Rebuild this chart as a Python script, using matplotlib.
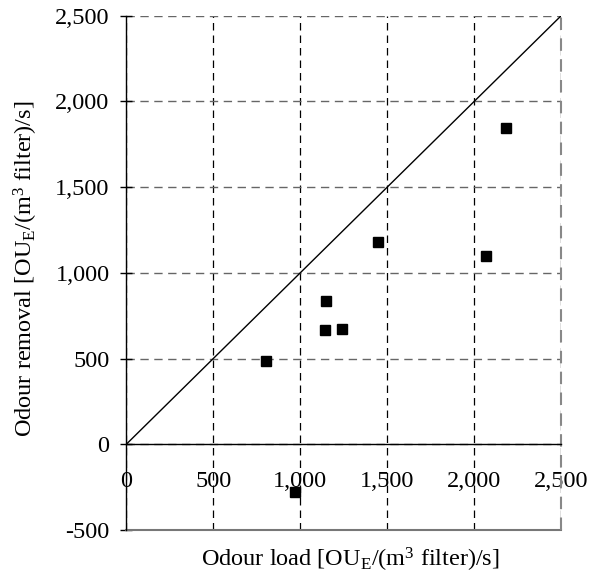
import numpy as np
import matplotlib.pyplot as plt

plt.rcParams['font.family'] = ['Liberation Serif', 'DejaVu Serif']
plt.rcParams['mathtext.fontset'] = 'custom'
plt.rcParams['mathtext.rm'] = 'Liberation Serif'
plt.rcParams['mathtext.it'] = 'Liberation Serif:italic'

# Data
odour_load = [804, 972, 1145, 1150, 1238, 1449, 2069, 2181]
odour_removal = [484, -276, 665, 838, 673, 1178, 1097, 1843]
x_ticks = [0, 500, 1000, 1500, 2000, 2500]
y_ticks = [-500, 0, 500, 1000, 1500, 2000, 2500]

fig = plt.figure(figsize=(5.92, 5.80), dpi=100)
ax = fig.add_axes([0.2133, 0.0862, 0.948 - 0.2133, 0.973 - 0.0862])

ax.set_xlim(0, 2500)
ax.set_ylim(-500, 2500)

# 1:1 line
ax.plot([0, 2500], [0, 2500], color='black', lw=1.0, zorder=3)
ax.plot(odour_load, odour_removal, 's', color='black', ms=7, zorder=4)

# grid
ax.set_xticks(x_ticks)
ax.set_yticks(y_ticks)
ax.set_xticklabels([f'{v:,}' for v in x_ticks])
ax.set_yticklabels([f'{v:,}' for v in y_ticks])
ax.xaxis.grid(True, color='black', ls=(0, (6, 4)), lw=0.9)
ax.yaxis.grid(True, color='#666666', ls=(0, (6, 4)), lw=1.0)
ax.set_axisbelow(True)

# frame
ax.spines['bottom'].set_position(('data', 0))
ax.spines['bottom'].set_color('black')
ax.spines['bottom'].set_linewidth(1.0)
ax.spines['top'].set_visible(False)
ax.spines['right'].set_visible(False)
ax.spines['left'].set_linewidth(1.0)
ax.axhline(-500, color='#777777', lw=1.5, clip_on=False)
ax.axvline(2500, color='#888888', ls=(0, (6, 4)), lw=1.5, clip_on=False)

ax.tick_params(axis='x', length=0, pad=19, labelsize=17.5)
ax.tick_params(axis='y', direction='inout', length=8, width=1.0, pad=8, labelsize=17.5)

fig.text(0.592, 0.034, r'Odour load [OU$_\mathrm{E}$/(m$^3$ filter)/s]',
         ha='center', va='center', fontsize=17.5)
fig.text(0.044, 0.536, r'Odour removal [OU$_\mathrm{E}$/(m$^3$ filter)/s]',
         ha='center', va='center', rotation=90, fontsize=17.5)

fig.savefig('out.png', dpi=100)
